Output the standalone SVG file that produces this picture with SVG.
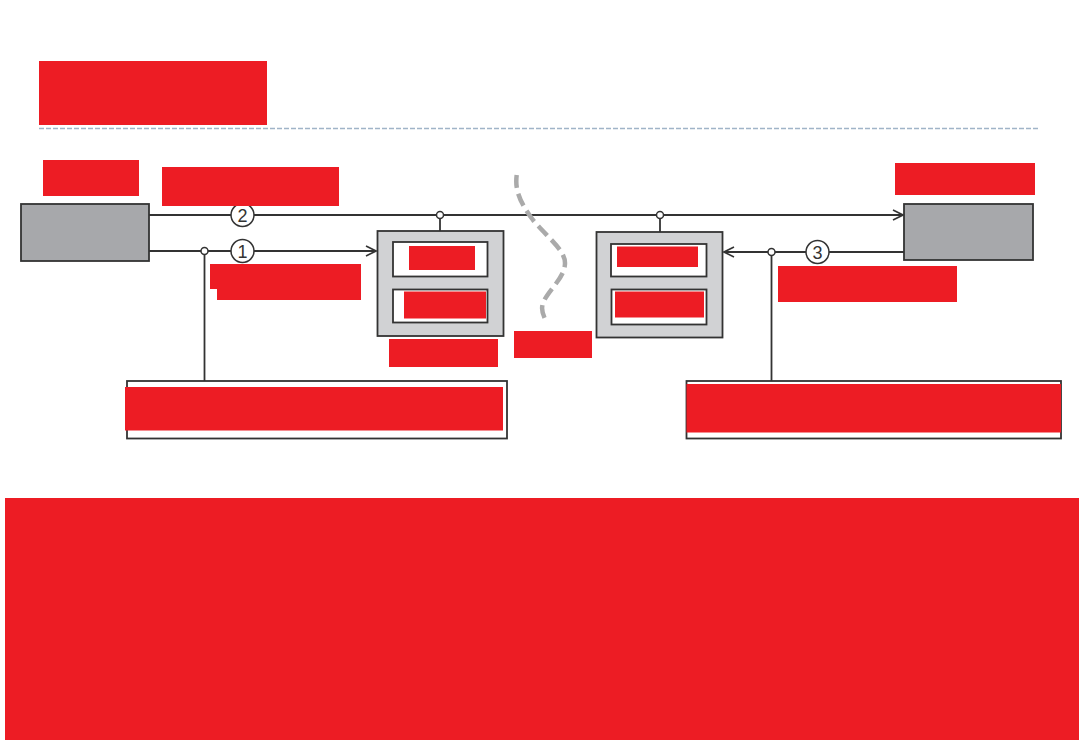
<svg xmlns="http://www.w3.org/2000/svg" width="1079" height="740" viewBox="0 0 1079 740">
<defs>
<style>
.red{fill:#ed1c24}
.ln{stroke:#333;stroke-width:1.8;fill:none}
.gray{fill:#a7a8ab;stroke:#333;stroke-width:1.8}
.lt{fill:#d1d2d4;stroke:#333;stroke-width:1.8}
.wb{fill:#fff;stroke:#333;stroke-width:1.8}
.jn{fill:#fff;stroke:#333;stroke-width:1.5}
.num{font-family:"Liberation Sans",Arial,sans-serif;font-size:18px;fill:#333;text-anchor:middle}
</style>
<marker id="ah" viewBox="0 0 12 12" refX="11" refY="6" markerWidth="12" markerHeight="12" markerUnits="userSpaceOnUse" orient="auto">
<path d="M1,1 L11,6 L1,11" fill="none" stroke="#333" stroke-width="1.6"/>
</marker>
</defs>
<rect width="1079" height="740" fill="#fff"/>
<g id="title"><rect class="red" x="39" y="61" width="228" height="64"/></g>
<line x1="39" y1="128.5" x2="1038" y2="128.5" stroke="#a0b4c8" stroke-width="1.3" stroke-dasharray="5,2"/>
<g id="connectors">
<line class="ln" x1="149" y1="215" x2="903" y2="215" marker-end="url(#ah)"/>
<line class="ln" x1="149" y1="251" x2="376" y2="251" marker-end="url(#ah)"/>
<line class="ln" x1="904" y1="252" x2="724" y2="252" marker-end="url(#ah)"/>
<line class="ln" x1="440" y1="215" x2="440" y2="231"/>
<line class="ln" x1="660" y1="215" x2="660" y2="232"/>
<line class="ln" x1="204.5" y1="251" x2="204.5" y2="381"/>
<line class="ln" x1="771.5" y1="252" x2="771.5" y2="381"/>
<circle class="jn" cx="440" cy="215" r="3.5"/>
<circle class="jn" cx="660" cy="215" r="3.5"/>
<circle class="jn" cx="204.5" cy="251" r="3.5"/>
<circle class="jn" cx="771.5" cy="252" r="3.5"/>
<circle class="jn" cx="242.5" cy="215" r="11.5"/>
<text class="num" x="242.5" y="221.5">2</text>
<circle class="jn" cx="242.5" cy="251" r="11.5"/>
<text class="num" x="242.5" y="257.5">1</text>
<circle class="jn" cx="817.5" cy="252" r="11.5"/>
<text class="num" x="817.5" y="258.5">3</text>
</g>
<g id="wave">
<path d="M516.7,175 C515,188 518,200 533,220 C548,238 565,250 565,263 C565,278 548,290 543,303 C540,312 545,318 547,323" fill="none" stroke="#aaaaaa" stroke-width="4.5" stroke-dasharray="13,6"/>
<rect class="red" x="514" y="331" width="78" height="27"/>
</g>
<g id="leftnode">
<rect class="gray" x="21" y="204" width="128" height="57"/>
<rect class="red" x="43" y="160" width="96" height="36"/>
</g>
<g id="label2"><rect class="red" x="162" y="167" width="177" height="39"/></g>
<g id="label1">
<rect class="red" x="210" y="264" width="151" height="25"/>
<rect class="red" x="217" y="264" width="144" height="36"/>
</g>
<g id="rightnode">
<rect class="gray" x="904" y="204" width="129" height="56"/>
<rect class="red" x="895" y="163" width="140" height="32"/>
</g>
<g id="label3"><rect class="red" x="778" y="266" width="179" height="36"/></g>
<g id="midleft">
<rect class="lt" x="377.5" y="231" width="126" height="105"/>
<rect class="wb" x="393" y="242" width="94.5" height="34.5"/>
<rect class="wb" x="393" y="289.5" width="94.5" height="33"/>
<rect class="red" x="409" y="246" width="66" height="24"/>
<rect class="red" x="404" y="291.5" width="82" height="27"/>
<rect class="red" x="389" y="339" width="109" height="28"/>
</g>
<g id="midright">
<rect class="lt" x="596.5" y="232" width="126" height="105.5"/>
<rect class="wb" x="611" y="244" width="95.5" height="32.5"/>
<rect class="wb" x="611.5" y="289.5" width="95" height="35"/>
<rect class="red" x="617" y="246.5" width="81" height="20.5"/>
<rect class="red" x="615" y="291.5" width="89" height="26"/>
</g>
<g id="bottomleft">
<rect class="wb" x="127" y="381" width="380" height="57.5"/>
<rect class="red" x="125" y="387" width="378" height="43.5"/>
</g>
<g id="bottomright">
<rect class="wb" x="686.5" y="381" width="374.5" height="57.5"/>
<rect class="red" x="686.5" y="384" width="374.5" height="48.5"/>
</g>
<g id="footer"><rect class="red" x="5" y="498" width="1074" height="242"/></g>
</svg>
